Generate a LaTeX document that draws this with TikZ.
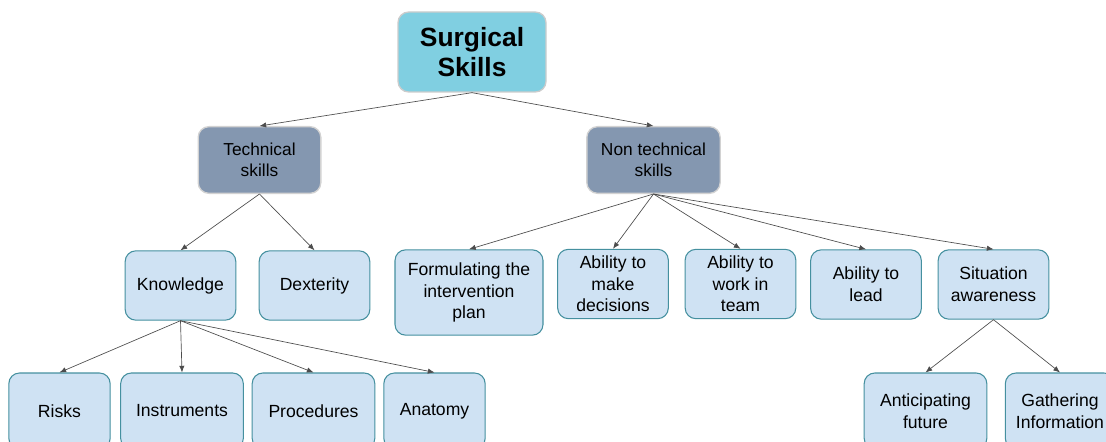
\documentclass[tikz,border=0pt]{standalone}
\usepackage{fontspec}
\setmainfont{Liberation Sans}
\usetikzlibrary{arrows.meta, positioning}
\definecolor{topfill}{HTML}{80CFE1}
\definecolor{midfill}{HTML}{8497B0}
\definecolor{leaffill}{HTML}{CFE2F3}
\definecolor{leafline}{HTML}{45909F}
\tikzset{
    rootbox/.style={draw=gray!40, line width=1pt, fill=topfill, rounded corners=8pt, align=center,
        minimum width=111pt, minimum height=60pt, font=\fontsize{19.8}{23}\selectfont\bfseries},
    midbox/.style={draw=gray!35, line width=1pt, fill=midfill, rounded corners=8pt, align=center,
        minimum width=92pt, minimum height=50pt, font=\fontsize{13}{16}\selectfont},
    leafbox/.style={draw=leafline, line width=0.8pt, fill=leaffill, rounded corners=8pt, align=center,
        minimum width=83pt, minimum height=52pt, font=\fontsize{13.2}{16.2}\selectfont},
    arr/.style={draw=black!70, line width=0.5pt, -{Latex[length=5pt,width=4pt]}}
}

\begin{document}
\begin{tikzpicture}[x=0.75pt, y=-0.75pt]
    \useasboundingbox (0,0) rectangle (1106,442);
    \node[rootbox] (surg) at (472,52) {Surgical\\Skills};
    \node[midbox] (tech) at (259.5,160) {Technical\\skills};
    \node[midbox, minimum width=100pt] (ntech) at (653.5,160) {Non technical\\skills};

    \node[leafbox] (know) at (180.5,285.5) {Knowledge};
    \node[leafbox] (dext) at (314.5,285.5) {Dexterity};
    \node[leafbox, minimum width=111pt, minimum height=64pt] (plan) at (469,292.5) {Formulating the\\intervention\\plan};
    \node[leafbox] (deci) at (613,284) {Ability to\\make\\decisions};
    \node[leafbox] (team) at (740.5,284) {Ability to\\work in\\team};
    \node[leafbox] (lead) at (866,284.5) {Ability to\\lead};
    \node[leafbox] (situ) at (993.5,284.5) {Situation\\awareness};

    \node[leafbox, minimum width=76pt, minimum height=57pt] (risk) at (59.5,411) {Risks};
    \node[leafbox, minimum width=92pt, minimum height=57pt] (inst) at (182,411) {Instruments};
    \node[leafbox, minimum width=92pt, minimum height=57pt] (proc) at (313.5,411) {Procedures};
    \node[leafbox, minimum width=76pt, minimum height=57pt] (anat) at (434.5,411) {Anatomy};
    \node[leafbox, minimum width=92pt, minimum height=57pt] (anti) at (925.5,411) {Anticipating\\future};
    \node[leafbox, minimum width=82pt, minimum height=57pt] (gath) at (1060,411) {Gathering\\Information};

    \draw[arr] (surg.south) -- (tech.north);
    \draw[arr] (surg.south) -- (ntech.north);
    \draw[arr] (tech.south) -- (know.north);
    \draw[arr] (tech.south) -- (dext.north);
    \foreach \n in {plan, deci, team, lead, situ}
        \draw[arr] (ntech.south) -- (\n.north);
    \foreach \n in {risk, inst, proc, anat}
        \draw[arr] (know.south) -- (\n.north);
    \draw[arr] (situ.south) -- (anti.north);
    \draw[arr] (situ.south) -- (gath.north);
\end{tikzpicture}
\end{document}
